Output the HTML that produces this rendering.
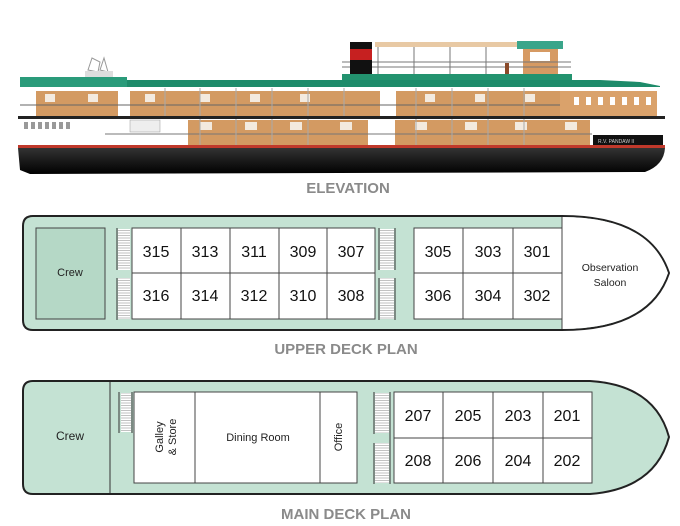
<!DOCTYPE html>
<html><head><meta charset="utf-8"><style>
html,body{margin:0;padding:0;background:#fff}
svg{display:block}
text{font-family:"Liberation Sans",sans-serif}
</style></head><body>
<svg width="680" height="526" viewBox="0 0 680 526" xmlns="http://www.w3.org/2000/svg">
<defs>
<pattern id="st" width="4" height="2.5" patternUnits="userSpaceOnUse"><rect width="4" height="2.5" fill="#fff"/><line x1="0" y1="0.5" x2="4" y2="0.5" stroke="#999" stroke-width="0.6"/></pattern>
<linearGradient id="hull" x1="0" y1="0" x2="0" y2="1"><stop offset="0" stop-color="#333"/><stop offset="1" stop-color="#000"/></linearGradient>
</defs>
<!-- ELEVATION -->
<path d="M88 70 L92 58 L100 62 L98 72 Z M100 70 L104 58 L108 72 Z" fill="none" stroke="#999" stroke-width="1"/>
<rect x="85" y="71" width="28" height="6" fill="#ddd"/>
<rect x="375" y="42" width="142" height="5" fill="#e8c9a4"/>
<rect x="517" y="41" width="46" height="8" fill="#3aa58a"/>
<rect x="523" y="49" width="35" height="25" fill="#d69a63"/>
<rect x="530" y="52" width="20" height="9" fill="#fff"/>
<g stroke="#777" stroke-width="1"><line x1="342" y1="62" x2="571" y2="62"/><line x1="342" y1="67" x2="571" y2="67"/><line x1="378" y1="47" x2="378" y2="74"/><line x1="414" y1="47" x2="414" y2="74"/><line x1="450" y1="47" x2="450" y2="74"/><line x1="486" y1="47" x2="486" y2="74"/></g>
<rect x="505" y="63" width="4" height="11" fill="#8a4a2a"/>
<rect x="350" y="42" width="22" height="33" fill="#111"/>
<rect x="350" y="49" width="22" height="11" fill="#c62020"/>
<rect x="20" y="77" width="107" height="10" fill="#2a9b7a"/>
<path d="M127 80 L600 80 L640 82 L660 86 L660 90 L127 90 Z" fill="#1e8b6a"/>
<rect x="342" y="74" width="230" height="6" fill="#23936f"/>
<rect x="20" y="87" width="640" height="3" fill="#fff"/>
<!-- upper deck -->
<rect x="20" y="90" width="640" height="27" fill="#fff"/>
<rect x="36" y="91" width="82" height="25" fill="#d39a62"/>
<rect x="130" y="91" width="250" height="25" fill="#d39a62"/>
<rect x="396" y="91" width="164" height="25" fill="#d39a62"/>
<rect x="560" y="91" width="97" height="25" fill="#daa26b"/>
<g fill="#fff"><rect x="574" y="97" width="5" height="8"/><rect x="586" y="97" width="5" height="8"/><rect x="598" y="97" width="5" height="8"/><rect x="610" y="97" width="5" height="8"/><rect x="622" y="97" width="5" height="8"/><rect x="634" y="97" width="5" height="8"/><rect x="646" y="97" width="5" height="8"/></g>
<g fill="#f3eadf"><rect x="45" y="94" width="10" height="8"/><rect x="88" y="94" width="10" height="8"/><rect x="145" y="94" width="10" height="8"/><rect x="200" y="94" width="10" height="8"/><rect x="250" y="94" width="10" height="8"/><rect x="300" y="94" width="10" height="8"/><rect x="425" y="94" width="10" height="8"/><rect x="475" y="94" width="10" height="8"/><rect x="525" y="94" width="10" height="8"/></g>
<line x1="20" y1="105" x2="560" y2="105" stroke="#666" stroke-width="1"/>
<g stroke="#aaa" stroke-width="1"><line x1="165" y1="88" x2="165" y2="116"/><line x1="200" y1="88" x2="200" y2="116"/><line x1="236" y1="88" x2="236" y2="116"/><line x1="272" y1="88" x2="272" y2="116"/><line x1="308" y1="88" x2="308" y2="116"/><line x1="344" y1="88" x2="344" y2="116"/><line x1="416" y1="88" x2="416" y2="116"/><line x1="452" y1="88" x2="452" y2="116"/><line x1="488" y1="88" x2="488" y2="116"/><line x1="524" y1="88" x2="524" y2="116"/></g>
<rect x="18" y="116" width="647" height="3" fill="#222"/>
<!-- lower deck -->
<rect x="20" y="119" width="645" height="27" fill="#fff"/>
<g fill="#999"><rect x="24" y="122" width="4" height="7"/><rect x="31" y="122" width="4" height="7"/><rect x="38" y="122" width="4" height="7"/><rect x="45" y="122" width="4" height="7"/><rect x="52" y="122" width="4" height="7"/><rect x="59" y="122" width="4" height="7"/><rect x="66" y="122" width="4" height="7"/></g>
<rect x="130" y="120" width="30" height="12" fill="#eee" stroke="#999" stroke-width="0.5"/>
<rect x="188" y="120" width="180" height="26" fill="#d39a62"/>
<rect x="395" y="120" width="195" height="26" fill="#d39a62"/>
<g fill="#f3eadf"><rect x="200" y="122" width="12" height="8"/><rect x="245" y="122" width="12" height="8"/><rect x="290" y="122" width="12" height="8"/><rect x="340" y="122" width="12" height="8"/><rect x="415" y="122" width="12" height="8"/><rect x="465" y="122" width="12" height="8"/><rect x="515" y="122" width="12" height="8"/><rect x="565" y="122" width="12" height="8"/></g>
<line x1="105" y1="134" x2="592" y2="134" stroke="#777" stroke-width="1"/>
<g stroke="#aaa" stroke-width="1"><line x1="200" y1="119" x2="200" y2="146"/><line x1="236" y1="119" x2="236" y2="146"/><line x1="272" y1="119" x2="272" y2="146"/><line x1="308" y1="119" x2="308" y2="146"/><line x1="416" y1="119" x2="416" y2="146"/><line x1="452" y1="119" x2="452" y2="146"/><line x1="488" y1="119" x2="488" y2="146"/><line x1="524" y1="119" x2="524" y2="146"/></g>
<rect x="593" y="135" width="70" height="10" fill="#111"/>
<text x="598" y="143" font-size="5" fill="#ccc">R.V. PANDAW II</text>
<rect x="18" y="145" width="647" height="3" fill="#c0392b"/>
<path d="M18 148 L665 148 Q664 165 645 172 L30 174 L20 170 Z" fill="url(#hull)"/>
<text x="348" y="193" font-size="15" font-weight="bold" fill="#8a8a8a" text-anchor="middle">ELEVATION</text>

<!-- UPPER DECK -->
<path d="M33 216 L562 216 Q650 216 669 273 Q650 330 562 330 L33 330 Q23 330 23 320 L23 226 Q23 216 33 216 Z" fill="#c4e2d3" stroke="#222" stroke-width="2"/>
<path d="M562 217 Q649 217 668 273 Q649 329 562 329 Z" fill="#fff"/>
<line x1="562" y1="217" x2="562" y2="329" stroke="#444" stroke-width="1"/>
<rect x="36" y="228" width="69" height="91" fill="#b5d8c6" stroke="#444" stroke-width="1"/>
<text x="70" y="276" font-size="11" text-anchor="middle" fill="#222">Crew</text>
<rect x="118" y="229" width="12" height="41" fill="url(#st)"/><rect x="118" y="278" width="12" height="41" fill="url(#st)"/>
<line x1="117" y1="228" x2="117" y2="270" stroke="#333"/><line x1="117" y1="278" x2="117" y2="320" stroke="#333"/>
<rect x="380" y="229" width="14" height="41" fill="url(#st)"/><rect x="380" y="278" width="14" height="41" fill="url(#st)"/>
<g stroke="#333"><line x1="379" y1="228" x2="379" y2="270"/><line x1="395" y1="228" x2="395" y2="270"/><line x1="379" y1="278" x2="379" y2="320"/><line x1="395" y1="278" x2="395" y2="320"/></g>
<g fill="#fff" stroke="#444" stroke-width="1">
<rect x="132" y="228" width="243" height="91"/><rect x="414" y="228" width="148" height="91"/></g>
<g stroke="#444" stroke-width="1">
<line x1="132" y1="273" x2="375" y2="273"/><line x1="181" y1="228" x2="181" y2="319"/><line x1="230" y1="228" x2="230" y2="319"/><line x1="279" y1="228" x2="279" y2="319"/><line x1="327" y1="228" x2="327" y2="319"/>
<line x1="414" y1="273" x2="562" y2="273"/><line x1="463" y1="228" x2="463" y2="319"/><line x1="513" y1="228" x2="513" y2="319"/></g>
<g font-size="16" text-anchor="middle" fill="#111">
<text x="156" y="257">315</text><text x="205" y="257">313</text><text x="254" y="257">311</text><text x="303" y="257">309</text><text x="351" y="257">307</text>
<text x="156" y="301">316</text><text x="205" y="301">314</text><text x="254" y="301">312</text><text x="303" y="301">310</text><text x="351" y="301">308</text>
<text x="438" y="257">305</text><text x="488" y="257">303</text><text x="537" y="257">301</text>
<text x="438" y="301">306</text><text x="488" y="301">304</text><text x="537" y="301">302</text></g>
<text x="610" y="271" font-size="10.5" text-anchor="middle" fill="#222">Observation</text>
<text x="610" y="286" font-size="10.5" text-anchor="middle" fill="#222">Saloon</text>
<text x="346" y="354" font-size="15" font-weight="bold" fill="#8a8a8a" text-anchor="middle">UPPER DECK PLAN</text>

<!-- MAIN DECK -->
<path d="M33 381 L590 381 Q655 385 669 437 Q655 489 590 494 L33 494 Q23 494 23 484 L23 391 Q23 381 33 381 Z" fill="#c4e2d3" stroke="#222" stroke-width="2"/>
<line x1="110" y1="382" x2="110" y2="493" stroke="#333" stroke-width="1"/>
<text x="70" y="440" font-size="12" text-anchor="middle" fill="#222">Crew</text>
<rect x="121" y="393" width="10" height="39" fill="url(#st)"/>
<line x1="119" y1="392" x2="119" y2="433" stroke="#333"/><line x1="132" y1="392" x2="132" y2="433" stroke="#333"/>
<g fill="#fff" stroke="#444" stroke-width="1"><rect x="134" y="392" width="223" height="91"/></g>
<g stroke="#444"><line x1="195" y1="392" x2="195" y2="483"/><line x1="320" y1="392" x2="320" y2="483"/></g>
<text transform="translate(163 437) rotate(-90)" font-size="11" text-anchor="middle" fill="#222">Galley</text>
<text transform="translate(176 437) rotate(-90)" font-size="11" text-anchor="middle" fill="#222">&amp; Store</text>
<text x="258" y="441" font-size="11" text-anchor="middle" fill="#222">Dining Room</text>
<text transform="translate(342 437) rotate(-90)" font-size="11" text-anchor="middle" fill="#222">Office</text>
<rect x="375" y="393" width="14" height="40" fill="url(#st)"/><rect x="375" y="443" width="14" height="40" fill="url(#st)"/>
<g stroke="#333"><line x1="374" y1="392" x2="374" y2="434"/><line x1="390" y1="392" x2="390" y2="484"/><line x1="374" y1="443" x2="374" y2="484"/></g>
<rect x="394" y="392" width="198" height="91" fill="#fff" stroke="#444"/>
<g stroke="#444"><line x1="394" y1="438" x2="592" y2="438"/><line x1="443" y1="392" x2="443" y2="483"/><line x1="493" y1="392" x2="493" y2="483"/><line x1="543" y1="392" x2="543" y2="483"/></g>
<g font-size="16" text-anchor="middle" fill="#111">
<text x="418" y="421">207</text><text x="468" y="421">205</text><text x="518" y="421">203</text><text x="567" y="421">201</text>
<text x="418" y="466">208</text><text x="468" y="466">206</text><text x="518" y="466">204</text><text x="567" y="466">202</text></g>
<text x="346" y="519" font-size="15" font-weight="bold" fill="#8a8a8a" text-anchor="middle">MAIN DECK PLAN</text>
</svg>
</body></html>
